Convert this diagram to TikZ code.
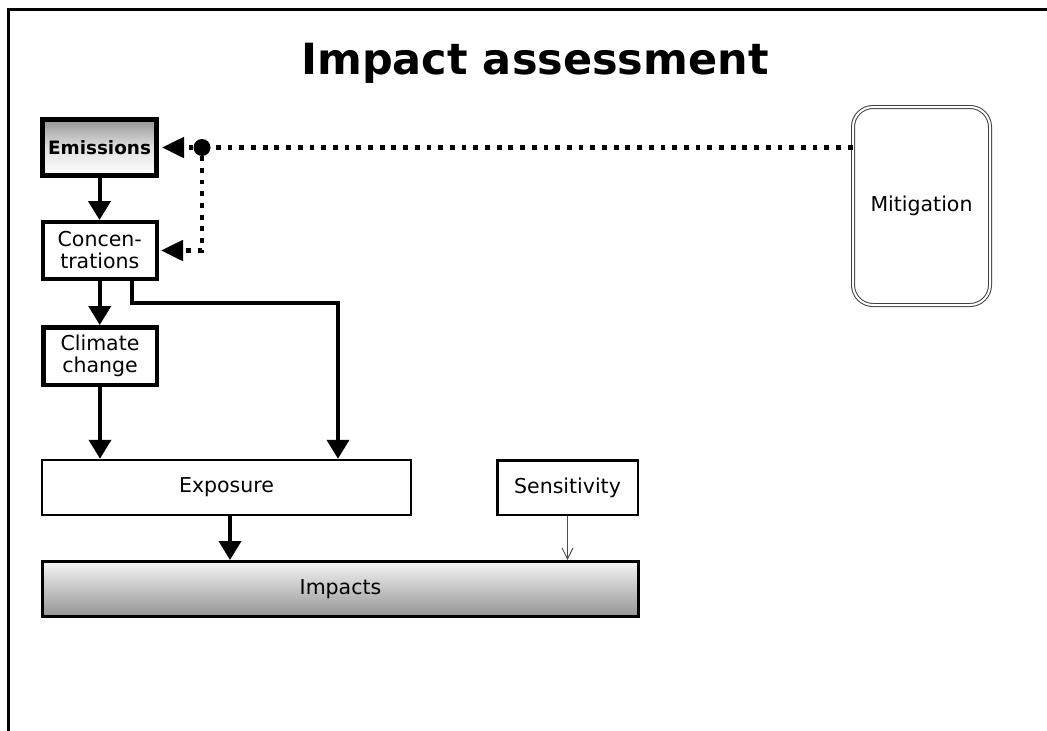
\documentclass[tikz,border=0pt]{standalone}
\usepackage{fontspec}
\setmainfont{DejaVu Sans}
\usetikzlibrary{arrows.meta}

\begin{document}
\begin{tikzpicture}[x=1pt,y=-1pt,
  box/.style={draw, rectangle, inner sep=0pt, align=center,
    font=\fontsize{20.5}{22}\selectfont},
  flow/.style={line width=4pt, -{Triangle[width=22pt,length=19pt]}},
  dotline/.style={line width=4.8pt, dash pattern=on 4.8pt off 6.9pt},
  link/.style={dotline, -{Triangle[width=20pt,length=22pt]}},
  weak/.style={line width=1pt, draw=black!70, -{Straight Barb[width=11pt,length=11pt]}},
]
\useasboundingbox (0,0) rectangle (1047,731);

% frame lines
\draw[line width=3pt] (8.5,731) -- (8.5,9.5) -- (1047,9.5);

% title
\node[anchor=base, inner sep=0pt, font=\fontsize{43}{50}\bfseries\selectfont] (title)
  at (535,74) {Impact assessment};

% chain of boxes
\node[box, line width=5pt, minimum width=114pt, minimum height=56pt,
  top color=black!42, bottom color=white, middle color=black!12,
  font=\fontsize{18.4}{22}\bfseries\selectfont] (emis) at (99.5,147.5) {Emissions};
\node[box, line width=4pt, minimum width=114.5pt, minimum height=57pt] (conc)
  at (99.75,250.5) {Concen-\\trations};
\node[box, line width=4.5pt, minimum width=113.5pt, minimum height=57.5pt] (clim)
  at (100,356) {Climate\\change};
\node[box, line width=2.5pt, minimum width=369pt, minimum height=55pt] (expo)
  at (226.5,487.5) {Exposure};
\node[box, line width=2.5pt, minimum width=140.5pt, minimum height=54.5pt] (sens)
  at (567.5,487.5) {Sensitivity};
\node[box, line width=3pt, minimum width=596pt, minimum height=55pt,
  top color=black!4, bottom color=black!42] (impa) at (340.5,589) {Impacts};

% mitigation
\node[box, draw=black!75, double, double distance=2pt, line width=1pt,
  rounded corners=20pt, minimum width=137pt, minimum height=198pt] (mit)
  at (921.5,206) {Mitigation};

% solid flows
\draw[flow] (emis.south) -- (emis.south |- conc.north);
\draw[flow] (conc.south) -- (conc.south |- clim.north);
\coordinate (bendA) at (132,303);
\coordinate (bendB) at (338,303);
\draw[flow] (conc.south -| bendA) -- (bendA) -- (bendB) -- (bendB |- expo.north);
\draw[flow] (clim.south) -- (clim.south |- expo.north);
\coordinate (expoOut) at (230,0);
\draw[flow] (expo.south -| expoOut) -- (impa.north -| expoOut);
\draw[weak] (sens.south) -- (sens.south |- impa.north);

% mitigation links
\node[circle, fill, minimum size=17pt, inner sep=0pt] (hub) at (202,147.5) {};
\draw[dotline] (hub -| mit.west) -- (hub);
\draw[link] (hub) -- ([xshift=3pt]emis.east);
\draw[link] (hub) |- ([xshift=2pt]conc.east);
\end{tikzpicture}
\end{document}
